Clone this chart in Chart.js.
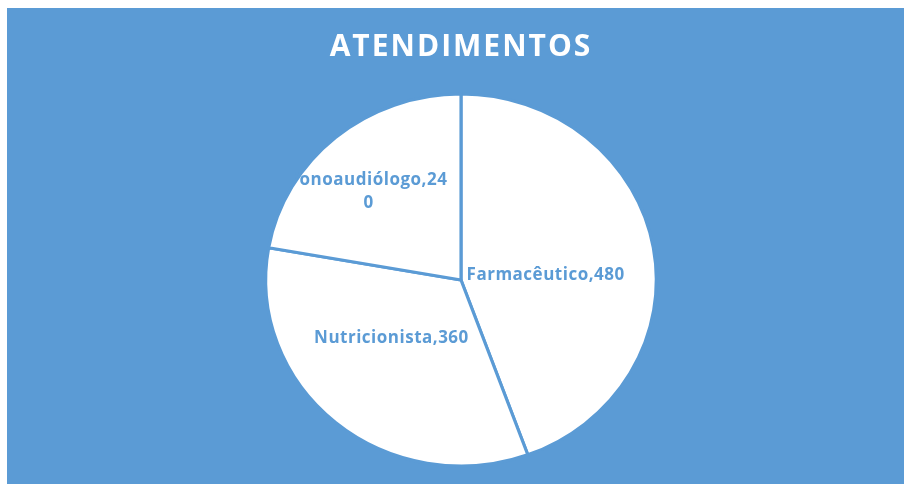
<!DOCTYPE html>
<html>
<head>
<meta charset="utf-8">
<script src="https://cdn.jsdelivr.net/npm/chart.js@4.4.1/dist/chart.umd.min.js"></script>
<style>
  html, body { margin: 0; padding: 0; background: #ffffff; }
  #wrap { width: 904px; height: 484px; }
</style>
</head>
<body>
<div id="wrap"><canvas id="c" width="904" height="484"></canvas></div>
<script>
// ---- data ----
const chartTitle = 'ATENDIMENTOS';
const categories = ['Farmacêutico', 'Nutricionista', 'Fonoaudiólogo'];
const values = [480, 360, 240];

// ---- style ----
const BLUE = '#5B9BD5';
const LABEL_FONT = 'bold 17px "Open Sans"';
const X_STRETCH = 1.05;
// label placement relative to pie centre, in units of radius
const labelStyle = [
  { dx: 0.455, dy: -0.027, maxChars: Infinity, clipLeft: null },
  { dx: -0.374, dy: 0.31, maxChars: Infinity, clipLeft: null },
  { dx: -0.497, dy: -0.473, maxChars: 16, clipLeft: -0.888 }
];

function wrapChars(text, n) {
  const out = [];
  for (let i = 0; i < text.length; i += n) out.push(text.slice(i, i + n));
  return out;
}

const backgroundPlugin = {
  id: 'bg',
  beforeDraw(chart) {
    const ctx = chart.ctx;
    ctx.save();
    ctx.fillStyle = '#ffffff';
    ctx.fillRect(0, 0, chart.width, chart.height);
    ctx.fillStyle = BLUE;
    ctx.fillRect(7, 8, chart.width - 7, chart.height - 8);
    ctx.restore();
  }
};

const stretchPlugin = {
  id: 'stretch',
  beforeDatasetDraw(chart) {
    const arc = chart.getDatasetMeta(0).data[0];
    const ctx = chart.ctx;
    ctx.save();
    ctx.translate(arc.x, arc.y);
    ctx.scale(X_STRETCH, 1);
    ctx.translate(-arc.x, -arc.y);
  },
  afterDatasetDraw(chart) {
    chart.ctx.restore();
  }
};

const titlePlugin = {
  id: 'titleDraw',
  afterDraw(chart) {
    const ctx = chart.ctx;
    ctx.save();
    ctx.fillStyle = '#ffffff';
    ctx.font = 'bold 30px "Open Sans"';
    ctx.textAlign = 'center';
    ctx.textBaseline = 'middle';
    try { ctx.letterSpacing = '2px'; } catch (e) {}
    ctx.fillText(chartTitle, 461, 47);
    ctx.restore();
  }
};

const labelPlugin = {
  id: 'sliceLabels',
  afterDatasetsDraw(chart) {
    const ctx = chart.ctx;
    const meta = chart.getDatasetMeta(0);
    meta.data.forEach((arc, i) => {
      const st = labelStyle[i];
      const r = arc.outerRadius;
      const cx = arc.x + st.dx * r;
      const cy = arc.y + st.dy * r;
      const text = chart.data.labels[i] + ',' + chart.data.datasets[0].data[i];
      const lines = isFinite(st.maxChars) ? wrapChars(text, st.maxChars) : [text];
      const lh = 23;
      ctx.save();
      if (st.clipLeft !== null) {
        ctx.beginPath();
        ctx.rect(arc.x + st.clipLeft * r, 0, chart.width, chart.height);
        ctx.clip();
      }
      ctx.fillStyle = BLUE;
      ctx.font = LABEL_FONT;
      try { ctx.letterSpacing = '0.5px'; } catch (e) {}
      ctx.textAlign = 'center';
      ctx.textBaseline = 'middle';
      lines.forEach((ln, k) => {
        ctx.fillText(ln, cx, cy + (k - (lines.length - 1) / 2) * lh);
      });
      ctx.restore();
    });
  }
};

new Chart(document.getElementById('c'), {
  type: 'pie',
  data: {
    labels: categories,
    datasets: [{
      data: values,
      backgroundColor: '#ffffff',
      borderColor: BLUE,
      borderWidth: 3,
      hoverOffset: 0
    }]
  },
  options: {
    responsive: false,
    devicePixelRatio: 1,
    animation: false,
    radius: 186,
    layout: { padding: { left: 18, right: 0, top: 76, bottom: 0 } },
    plugins: {
      legend: { display: false },
      tooltip: { enabled: false },
      title: { display: false }
    }
  },
  plugins: [backgroundPlugin, stretchPlugin, labelPlugin, titlePlugin]
});
</script>
</body>
</html>
